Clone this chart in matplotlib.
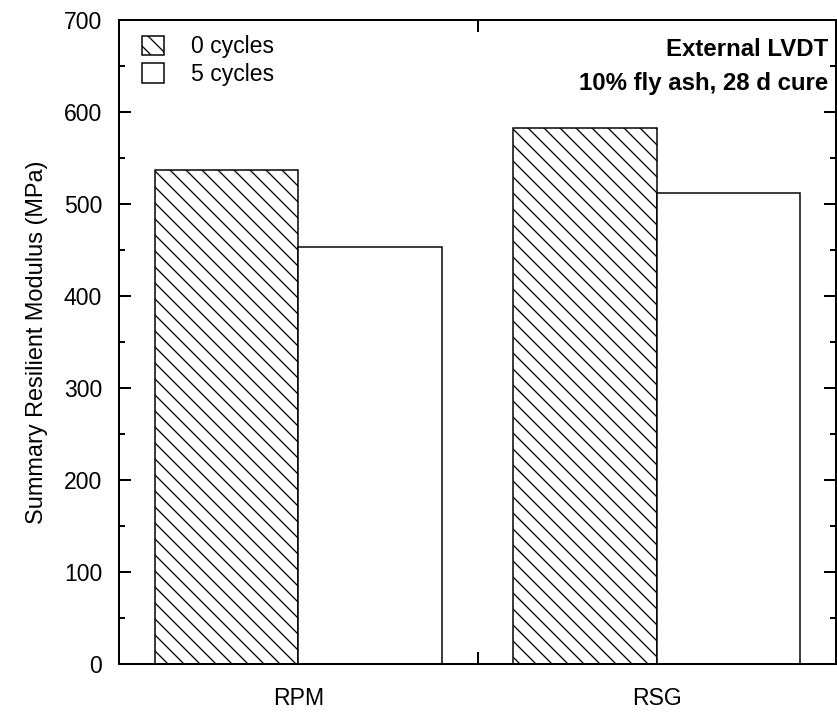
import numpy as np
import matplotlib
matplotlib.use('Agg')
import matplotlib.pyplot as plt
from matplotlib.ticker import MultipleLocator, FixedLocator

# dpi 48, чтобы штриховка была нужной густоты; размеры ниже задаются в пикселях
DPI = 48
P = 72 / DPI  # пиксели -> пункты

plt.rcParams['font.family'] = ['Liberation Sans', 'DejaVu Sans']
plt.rcParams['hatch.linewidth'] = 1.3 * P

# данные
materials = ['RPM', 'RSG']
cycles_0 = [537, 583]
cycles_5 = [453, 512]
series_labels = ['0 cycles', '5 cycles']

fig = plt.figure(figsize=(837 / DPI, 712 / DPI), dpi=DPI)
ax = fig.add_axes([119 / 837, 48 / 712, 717 / 837, 644 / 712])

x = np.arange(len(materials))
w = 0.4
ax.bar(x - w / 2, cycles_0, w, color='white', edgecolor='black', hatch='\\',
       linewidth=1.5 * P, label=series_labels[0])
ax.bar(x + w / 2, cycles_5, w, color='white', edgecolor='black',
       linewidth=1.5 * P, label=series_labels[1])

ax.set_xlim(-0.5, 1.5)
ax.set_ylim(0, 700)
ax.set_xticks(x)
ax.set_xticklabels(materials)
ax.xaxis.set_minor_locator(FixedLocator([0.5]))
ax.yaxis.set_major_locator(MultipleLocator(100))
ax.yaxis.set_minor_locator(MultipleLocator(50))

ax.tick_params(axis='x', which='major', length=0, pad=23 * P, labelsize=23 * P)
ax.tick_params(axis='x', which='minor', direction='in', length=12 * P, width=2 * P,
               top=True, bottom=True)
ax.tick_params(axis='y', which='major', direction='in', length=12 * P, width=2 * P,
               left=True, right=True, labelsize=23 * P, pad=17 * P)
ax.tick_params(axis='y', which='minor', direction='in', length=6 * P, width=2 * P,
               left=True, right=True)
for s in ax.spines.values():
    s.set_linewidth(2 * P)

ax.set_ylabel('Summary Resilient Modulus (MPa)', fontsize=23.5 * P, labelpad=16 * P)

ax.legend(loc='upper left', bbox_to_anchor=(0.032, 0.976), frameon=False,
          fontsize=23 * P, handlelength=0.95, handleheight=0.95, handletextpad=1.2,
          labelspacing=0.2, borderpad=0, borderaxespad=0)

ax.text(0.989, 0.972, 'External LVDT\n10% fly ash, 28 d cure', transform=ax.transAxes,
        ha='right', va='top', fontsize=24 * P, fontweight='bold', multialignment='right',
        linespacing=1.6)

fig.savefig('out.png', dpi=DPI)
